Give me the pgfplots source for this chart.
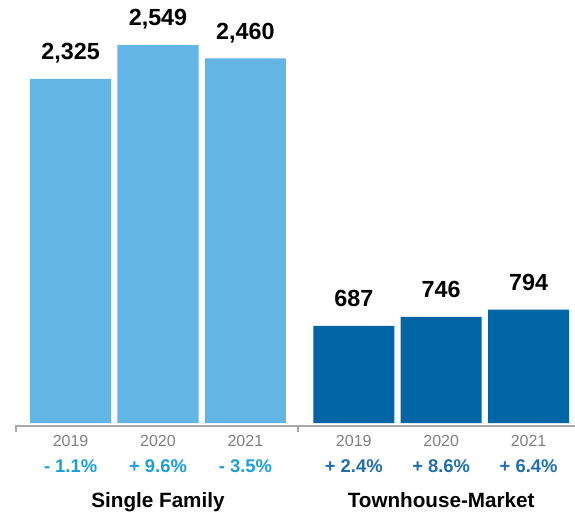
\documentclass[border=0pt]{standalone}
\usepackage{pgfplots}
\pgfplotsset{compat=1.18}
\usepackage{fontspec}
\setmainfont{Liberation Sans}
\definecolor{barlight}{HTML}{62B5E5}
\definecolor{bardark}{HTML}{0065A4}
\definecolor{pctlight}{HTML}{1A9FDB}
\definecolor{pctdark}{HTML}{1F6EAF}
\definecolor{yeargray}{HTML}{808080}
\definecolor{linegray}{HTML}{A8A8A8}
\tikzset{
  yr/.style={anchor=base, text=yeargray, font=\fontsize{12}{14}\selectfont, inner sep=0pt},
  pl/.style={anchor=base, text=pctlight, font=\fontsize{13.8}{16}\selectfont\bfseries, inner sep=0pt},
  pd/.style={anchor=base, text=pctdark, font=\fontsize{13.8}{16}\selectfont\bfseries, inner sep=0pt},
  gr/.style={anchor=base, font=\fontsize{15.5}{18}\selectfont\bfseries, inner sep=0pt},
}
\begin{document}
\begin{tikzpicture}[x=1pt,y=1pt]
\begin{axis}[
  scale only axis, width=420pt, height=317.25pt,
  xmin=-0.636, xmax=5.771, ymin=42, ymax=2848,
  axis lines=none, xtick=\empty, ytick=\empty,
  clip=false,
  ybar, bar width=0.927, bar shift=0pt,
  nodes near coords,
  every node near coord/.append style={font=\fontsize{17.5}{20}\selectfont\bfseries, text=black, anchor=base, yshift=14.6pt},
  /pgf/number format/.cd, 1000 sep={,}, assume math mode=true,
]
\addplot[fill=barlight, draw=none] coordinates {(0,2325) (1,2549) (2,2460)};
\addplot[fill=bardark, draw=none] coordinates {(3.24,687) (4.24,746) (5.24,794)};
% baseline
\draw[linegray, line width=1.5pt] ([yshift=-2.6pt]axis cs:-0.636,42) -- ([yshift=-2.6pt]axis cs:5.771,42);
\draw[linegray, line width=1.2pt] ([yshift=-1.9pt]axis cs:-0.625,42) -- ([yshift=-7pt]axis cs:-0.625,42);
\draw[linegray, line width=1.2pt] ([yshift=-1.9pt]axis cs:2.602,42) -- ([yshift=-7pt]axis cs:2.602,42);
% years
\node[yr] at ([yshift=-17.25pt]axis cs:0,42) {2019};
\node[yr] at ([yshift=-17.25pt]axis cs:1,42) {2020};
\node[yr] at ([yshift=-17.25pt]axis cs:2,42) {2021};
\node[yr] at ([yshift=-17.25pt]axis cs:3.24,42) {2019};
\node[yr] at ([yshift=-17.25pt]axis cs:4.24,42) {2020};
\node[yr] at ([yshift=-17.25pt]axis cs:5.24,42) {2021};
% percents
\node[pl] at ([yshift=-36.75pt]axis cs:0,42) {- 1.1\%};
\node[pl] at ([yshift=-36.75pt]axis cs:1,42) {+ 9.6\%};
\node[pl] at ([yshift=-36.75pt]axis cs:2,42) {- 3.5\%};
\node[pd] at ([yshift=-36.75pt]axis cs:3.24,42) {+ 2.4\%};
\node[pd] at ([yshift=-36.75pt]axis cs:4.24,42) {+ 8.6\%};
\node[pd] at ([yshift=-36.75pt]axis cs:5.24,42) {+ 6.4\%};
% groups
\node[gr] at ([yshift=-63pt]axis cs:1,42) {Single Family};
\node[gr] at ([yshift=-63pt]axis cs:4.24,42) {Townhouse-Market};
\end{axis}
\pgfresetboundingbox
\path (-11.25pt,-68.25pt) rectangle (420pt,317.25pt);
\end{tikzpicture}
\end{document}
